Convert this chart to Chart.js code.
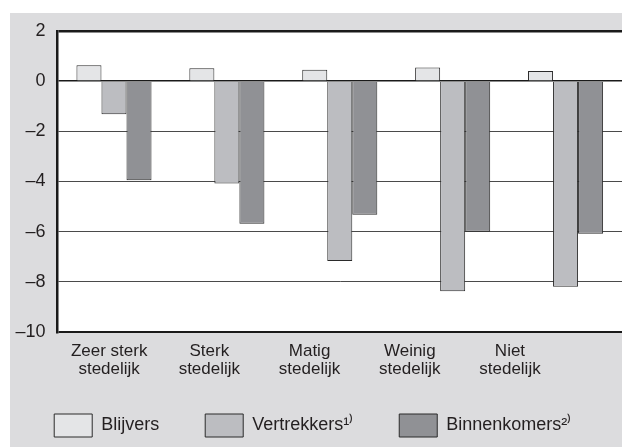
<!DOCTYPE html>
<html lang="nl">
<head>
	<meta charset="UTF-8">
	<title>Blijvers, vertrekkers en binnenkomers naar stedelijkheid</title>
	<script src="https://cdn.jsdelivr.net/npm/chart.js"></script>
	<style>
		body { margin: 0; background: #fff; }
		canvas { display: block; }
	</style>
</head>
<body>
	<canvas id="migratieChart" width="622" height="447"></canvas>
<script>
	// categorieën en waarden per groep
	const categories = [
		['Zeer sterk', 'stedelijk'],
		['Sterk', 'stedelijk'],
		['Matig', 'stedelijk'],
		['Weinig', 'stedelijk'],
		['Niet', 'stedelijk']
	];
	const blijvers = [0.63, 0.51, 0.46, 0.54, 0.41];
	const vertrekkers = [-1.32, -4.08, -7.17, -8.38, -8.2];
	const binnenkomers = [-3.95, -5.68, -5.33, -6.0, -6.08];
	const yTicks = [2, 0, -2, -4, -6, -8, -10];

	const textColor = '#231f20';
	const fontFamily = '"Liberation Sans", Arial, sans-serif';

	// grijs paneel achter de grafiek, wit plotvlak
	const panel = {
		id: 'panel',
		beforeDraw(chart) {
			const { ctx, width, height, chartArea } = chart;
			ctx.save();
			ctx.fillStyle = '#fff';
			ctx.fillRect(0, 0, width, height);
			ctx.fillStyle = '#dcdcde';
			ctx.fillRect(10, 13, width - 10, height - 13);
			ctx.fillStyle = '#fff';
			ctx.fillRect(chartArea.left, chartArea.top, chartArea.right - chartArea.left, chartArea.bottom - chartArea.top);
			ctx.restore();
		}
	};

	const ctx = document.getElementById('migratieChart').getContext('2d');
	const chart = new Chart(ctx, {
		type: 'bar',
		data: {
			labels: categories.map(c => c.join(' ')),
			datasets: [
				{
					label: 'Blijvers',
					data: blijvers,
					backgroundColor: '#e4e5e7',
					borderColor: '#2b2b2b',
					borderWidth: 1
				},
				{
					label: 'Vertrekkers¹⁾',
					data: vertrekkers,
					backgroundColor: '#bcbdc1',
					borderColor: '#2b2b2b',
					borderWidth: 1
				},
				{
					label: 'Binnenkomers²⁾',
					data: binnenkomers,
					backgroundColor: '#909195',
					borderColor: '#2b2b2b',
					borderWidth: 1
				}
			]
		},
		options: {
			responsive: false,
			animation: false,
			categoryPercentage: 0.665,
			barPercentage: 1.0,
			layout: {
				padding: { left: 3.5, top: 31, right: 0, bottom: 0 }
			},
			plugins: {
				tooltip: { enabled: false },
				legend: {
					position: 'bottom',
					labels: {
						boxWidth: 38,
						boxHeight: 23,
						padding: 46,
						color: textColor,
						font: { family: fontFamily, size: 18 }
					}
				}
			},
			scales: {
				x: {
					display: false,
					offset: true
				},
				// categorielabels onder het plotvlak, iets smaller verdeeld dan de staven
				xLabels: {
					type: 'linear',
					position: 'bottom',
					offset: false,
					min: 0.485,
					max: 6.118,
					grid: { display: false, drawTicks: false },
					border: { display: false },
					afterBuildTicks: axis => {
						axis.ticks = categories.map((c, i) => ({ value: i + 1 }));
					},
					afterFit: axis => {
						axis.height = 36;
					},
					ticks: {
						autoSkip: false,
						maxRotation: 0,
						mirror: true,
						padding: -28.5,
						color: textColor,
						font: { family: fontFamily, size: 17, lineHeight: 1.08 },
						callback: v => categories[v - 1]
					}
				},
				y: {
					min: -10,
					max: 2,
					afterBuildTicks: axis => {
						axis.ticks = yTicks.map(v => ({ value: v }));
					},
					border: { display: true, color: '#1a1a1a', width: 2.5 },
					grid: {
						drawTicks: false,
						color: c => {
							const v = c.tick.value;
							return (v === 2 || v === 0 || v === -10) ? '#1a1a1a' : '#4a4a4a';
						},
						lineWidth: c => {
							const v = c.tick.value;
							if (v === 2) return 2.5;
							if (v === -10) return 2;
							if (v === 0) return 1.5;
							return 1;
						}
					},
					ticks: {
						padding: 12,
						color: textColor,
						font: { family: fontFamily, size: 18 },
						callback: v => v < 0 ? '–' + Math.abs(v) : String(v)
					}
				}
			}
		},
		plugins: [panel]
	});
</script>
</body>
</html>
